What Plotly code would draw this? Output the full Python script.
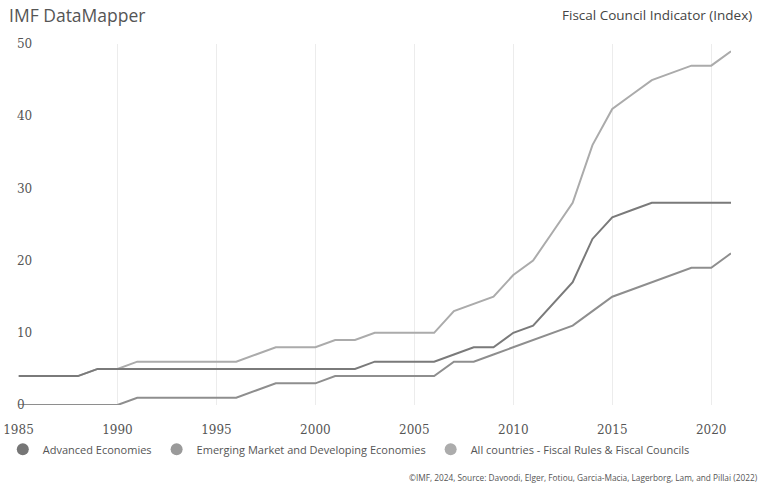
import plotly.graph_objects as go

years = list(range(1985, 2022))

advanced = [4, 4, 4, 4, 5, 5, 5, 5, 5, 5, 5, 5, 5, 5, 5, 5, 5, 5,
            6, 6, 6, 6, 7, 8, 8, 10, 11, 14, 17, 23, 26, 27, 28, 28, 28, 28, 28]
emerging = [0, 0, 0, 0, 0, 0, 1, 1, 1, 1, 1, 1, 2, 3, 3, 3, 4, 4,
            4, 4, 4, 4, 6, 6, 7, 8, 9, 10, 11, 13, 15, 16, 17, 18, 19, 19, 21]
all_countries = [4, 4, 4, 4, 5, 5, 6, 6, 6, 6, 6, 6, 7, 8, 8, 8, 9, 9,
                 10, 10, 10, 10, 13, 14, 15, 18, 20, 24, 28, 36, 41, 43, 45, 46, 47, 47, 49]

series_names = [
    "Advanced Economies",
    "Emerging Market and Developing Economies",
    "All countries - Fiscal Rules & Fiscal Councils",
]
series_values = [advanced, emerging, all_countries]
line_colors = ["#7a7a7a", "#8e8e8e", "#ababab"]
marker_colors = ["#767676", "#9a9a9a", "#acacac"]

x_ticks = [1985, 1990, 1995, 2000, 2005, 2010, 2015, 2020]
y_ticks = [0, 10, 20, 30, 40, 50]

# geometry (px)
W, H = 761, 492
ML, MR, MT, MB = 10, 30, 35, 78
plot_w = W - ML - MR
plot_h = H - MT - MB
data_left = 18.5           # x pixel of the first year
y_top, y_bottom = 44, 405  # pixels of y = 50 and y = 0
px_per_unit = (y_bottom - y_top) / 50.0
lo_units = -((H - MB) - y_bottom) / px_per_unit
hi_units = 50 + (y_top - MT) / px_per_unit

fig = go.Figure()

# data lines (drawn back to front so the darker series sit on top)
for name, vals, col in reversed(list(zip(series_names, series_values, line_colors))):
    fig.add_trace(go.Scatter(
        x=years, y=vals, mode="lines", name=name,
        line=dict(color=col, width=2), showlegend=False,
        hovertemplate="%{x}: %{y}<extra>" + name + "</extra>",
    ))

# round legend markers
for name, col in zip(series_names, marker_colors):
    fig.add_trace(go.Scatter(
        x=[None], y=[None], mode="markers", name=name,
        marker=dict(color=col, size=10, symbol="circle"),
        showlegend=True, hoverinfo="skip",
    ))

# empty trace that carries the value-label axis
fig.add_trace(go.Scatter(x=[None], y=[None], xaxis="x2", yaxis="y2",
                         showlegend=False, hoverinfo="skip"))

fig.update_layout(
    width=W, height=H,
    margin=dict(l=ML, r=MR, t=MT, b=MB, autoexpand=False),
    paper_bgcolor="white", plot_bgcolor="rgba(0,0,0,0)",
    font=dict(family="Open Sans", color="#555555"),
    showlegend=True,
    legend=dict(
        orientation="h", x=-0.01, xanchor="left", y=-0.055, yanchor="top",
        font=dict(family="Open Sans", size=11, color="#555555"),
        itemsizing="constant", traceorder="normal",
        bgcolor="rgba(0,0,0,0)", itemclick=False,
    ),
    xaxis=dict(
        domain=[(data_left - ML) / plot_w, 1],
        range=[1985, 2021], tickvals=x_ticks,
        showgrid=True, gridcolor="#ececec", gridwidth=1,
        zeroline=False, showline=False, ticks="",
        tickfont=dict(family="DejaVu Serif", size=12, color="#555555"),
        ticklabelstandoff=16, automargin=False,
        fixedrange=True,
    ),
    yaxis=dict(
        domain=[((H - MB) - y_bottom) / plot_h, ((H - MB) - y_top) / plot_h],
        range=[0, 50], tickvals=y_ticks,
        showgrid=False, zeroline=False, showline=False, ticks="",
        showticklabels=False, automargin=False,
        fixedrange=True,
    ),
    xaxis2=dict(
        domain=[(data_left - ML) / plot_w, 1], range=[1985, 2021],
        anchor="y2", visible=False, fixedrange=True,
    ),
    # value labels sit just inside the left edge
    yaxis2=dict(
        domain=[0, 1], anchor="free", position=0.004,
        range=[lo_units, hi_units], tickvals=y_ticks,
        showgrid=False, zeroline=False, showline=False, ticks="",
        ticklabelposition="inside", automargin=False,
        tickfont=dict(family="DejaVu Serif", size=12, color="#555555"),
        fixedrange=True,
    ),
    annotations=[
        dict(text="IMF DataMapper", xref="paper", yref="paper",
             x=0, y=1.0, xshift=-ML + 7, yshift=MT - 15, xanchor="left", yanchor="middle",
             showarrow=False, font=dict(family="Open Sans", size=17.5, color="#555555")),
        dict(text="Fiscal Council Indicator (Index)", xref="paper", yref="paper",
             x=1.0, y=1.0, xshift=MR - 7, yshift=MT - 15, xanchor="right", yanchor="middle",
             showarrow=False, font=dict(family="Open Sans", size=13.5, color="#444444")),
        dict(text="©IMF, 2024, Source: Davoodi, Elger, Fotiou, Garcia-Macia, Lagerborg, Lam, and Pillai (2022)",
             xref="paper", yref="paper", x=1.0, y=0.0, xshift=MR - 1, yshift=-(MB - 15),
             xanchor="right", yanchor="middle",
             showarrow=False, font=dict(family="Open Sans", size=8.3, color="#555555")),
    ],
)

fig.write_html("out.html")
